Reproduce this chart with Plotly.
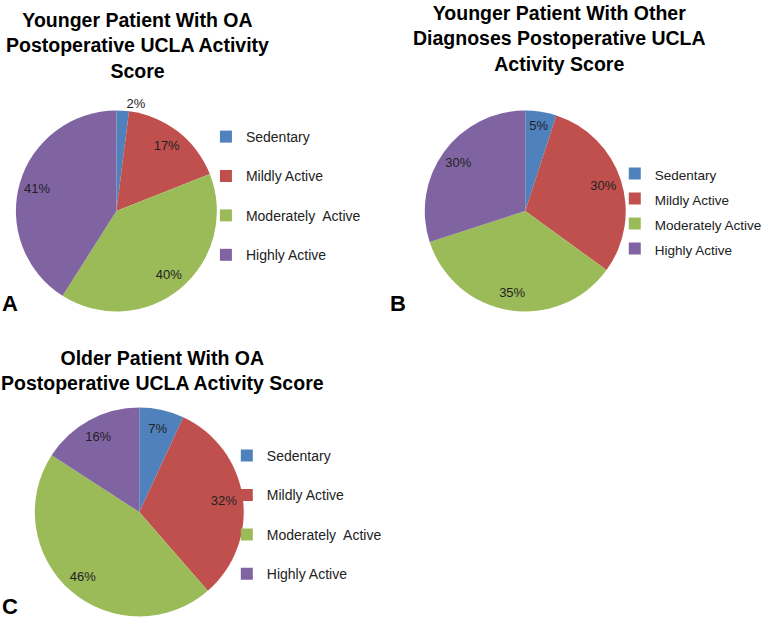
import plotly.graph_objects as go

W, H = 767, 623

categories = ["Sedentary", "Mildly Active", "Moderately Active", "Highly Active"]
legend_labels_ac = ["Sedentary", "Mildly Active", "Moderately\u00a0 Active", "Highly Active"]
values_a = [2, 17, 40, 41]
values_b = [5, 30, 35, 30]
values_c = [7, 32, 46, 16]
colors = ["#4F81BD", "#C0504D", "#9BBB59", "#8064A2"]

title_a = "Younger Patient With OA<br>Postoperative UCLA Activity<br>Score"
title_b = "Younger Patient With Other<br>Diagnoses Postoperative UCLA<br>Activity Score"
title_c = "Older Patient With OA<br>Postoperative UCLA Activity Score"
panel_letters = ["A", "B", "C"]

FONT = "Liberation Sans, Arial, Helvetica, sans-serif"


def px_dom(x0, x1, y0, y1):
    return dict(x=[x0 / W, x1 / W], y=[1 - y1 / H, 1 - y0 / H])


def pie_pair(fig, values, labels, dom, legend, textpos):
    # visible slices (no text)
    fig.add_trace(go.Pie(
        values=values, labels=labels, sort=False, direction="clockwise",
        rotation=0, domain=dom,
        marker=dict(colors=colors, line=dict(width=0)),
        textinfo="none", legend=legend, hoverinfo="value",
    ))
    # transparent ring carrying the percentage labels further out
    fig.add_trace(go.Pie(
        values=values, labels=labels, sort=False, direction="clockwise",
        rotation=0, domain=dom, hole=0.64,
        marker=dict(colors=["rgba(0,0,0,0)"] * len(values), line=dict(width=0)),
        texttemplate="%{value}%", textposition=textpos,
        insidetextorientation="horizontal",
        textfont=dict(family=FONT, size=13, color="#222222"),
        showlegend=False, hoverinfo="skip",
    ))


labels_a = [l + "<br> " for l in legend_labels_ac]
labels_b = ["<span style='font-size:13.5px'>" + l + "</span>" for l in categories]
labels_c = [l + "<br>\u00a0" for l in legend_labels_ac]

fig = go.Figure()
pie_pair(fig, values_a, labels_a, px_dom(16, 218, 110, 312), "legend",
         ["outside", "inside", "inside", "inside"])
pie_pair(fig, values_b, labels_b, px_dom(427, 629, 110, 312), "legend2", "inside")
pie_pair(fig, values_c, labels_c, px_dom(35, 245, 407, 617), "legend3", "inside")

leg_common = dict(xanchor="left", yanchor="top", bgcolor="rgba(0,0,0,0)")
lf = dict(family=FONT, size=14, color="#222222")
fig.update_layout(
    width=W, height=H,
    margin=dict(l=0, r=0, t=0, b=0),
    paper_bgcolor="white",
    plot_bgcolor="white",
    uniformtext=dict(minsize=13, mode="show"),
    legend=dict(x=207 / W, y=1 - 121 / H, valign="top", font=lf, **leg_common),
    legend2=dict(x=618 / W, y=1 - 156 / H, font=dict(lf, size=16.9), **leg_common),
    legend3=dict(x=228 / W, y=1 - 440 / H, valign="top", font=lf, **leg_common),
)

title_font = dict(family=FONT, size=19.5, color="black")
anns = [
    dict(text="<b>" + title_a + "</b>", x=138 / W, y=1 - 7 / H),
    dict(text="<b>" + title_b + "</b>", x=562 / W, y=1 - 0 / H),
    dict(text="<b>" + title_c + "</b>", x=163 / W, y=1 - 345 / H),
]
for a in anns:
    fig.add_annotation(xref="paper", yref="paper", xanchor="center", yanchor="top",
                       showarrow=False, font=title_font, align="center", **a)

letter_pos = [(0, 318), (390, 318), (0, 621)]
for letter, (lx, ly) in zip(panel_letters, letter_pos):
    fig.add_annotation(text="<b>" + letter + "</b>", xref="paper", yref="paper",
                       x=lx / W, y=1 - ly / H, xanchor="left", yanchor="bottom",
                       showarrow=False, font=dict(family=FONT, size=22, color="black"))

fig.write_html("out.html", config={"displayModeBar": False},
               post_script="document.body.style.margin='0';")
